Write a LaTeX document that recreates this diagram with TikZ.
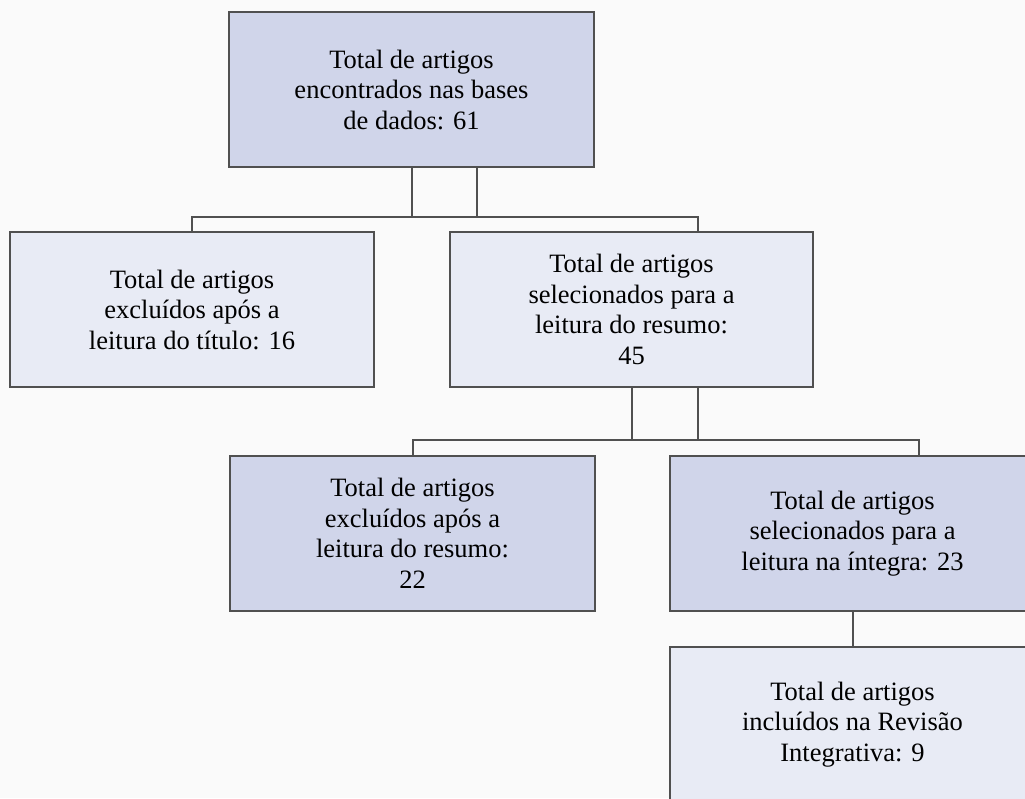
\documentclass[tikz,border=0pt]{standalone}
\usepackage{fontspec}
\setmainfont{Liberation Serif}
\usepackage{tikz}
\usetikzlibrary{calc}
\usetikzlibrary{positioning}

\definecolor{bgcol}{RGB}{250,250,250}
\definecolor{darkbox}{RGB}{208,213,234}
\definecolor{lightbox}{RGB}{232,235,245}
\definecolor{edgecol}{RGB}{80,80,80}

\begin{document}
\begin{tikzpicture}[x={(1pt,0)}, y={(0,-1pt)},
	box/.style={draw=edgecol, line width=2pt, minimum width=365pt, minimum height=155pt,
		inner sep=0pt, align=center, font=\fontsize{26.5}{30.5}\selectfont},
	darkfill/.style={box, fill=darkbox},
	lightfill/.style={box, fill=lightbox},
	link/.style={draw=edgecol, line width=2pt}]
			\clip (0,0) rectangle (1025,798);
			\fill[bgcol] (0,0) rectangle (1025,798);

			\node[darkfill] (1) at (411.5,89.5) {Total de artigos\\encontrados nas bases\\de dados: 61};

			\node[lightfill, minimum width=364pt] (2) at (192,309.5) {Total de artigos\\excluídos após a\\leitura do título: 16};
			\node[lightfill, minimum width=363pt] (3) at (631.5,309.5) {Total de artigos\\selecionados para a\\leitura do resumo:\\45};

			\node[darkfill] (4) at (412.5,533.5) {Total de artigos\\excluídos após a\\leitura do resumo:\\22};
			\node[darkfill] (5) at (852.5,533.5) {Total de artigos\\selecionados para a\\leitura na íntegra: 23};

			\node[lightfill] (6) at (852.5,724.5) {Total de artigos\\incluídos na Revisão\\Integrativa: 9};

			\path[link] (1.south) -- ++(0,49);
			\path[link] ($(1.south)+(65,0)$) -- ++(0,49);
			\path[link] (2.north) |- ($(1.south)+(0,49)$) -| ($(3.north)+(66,0)$);

			\path[link] (3.south) -- ++(0,52);
			\path[link] ($(3.south)+(66,0)$) -- ++(0,52);
			\path[link] (4.north) |- ($(3.south)+(0,52)$) -| ($(5.north)+(66,0)$);

			\path[link] (5) -- (6);
        \end{tikzpicture}
\end{document}
